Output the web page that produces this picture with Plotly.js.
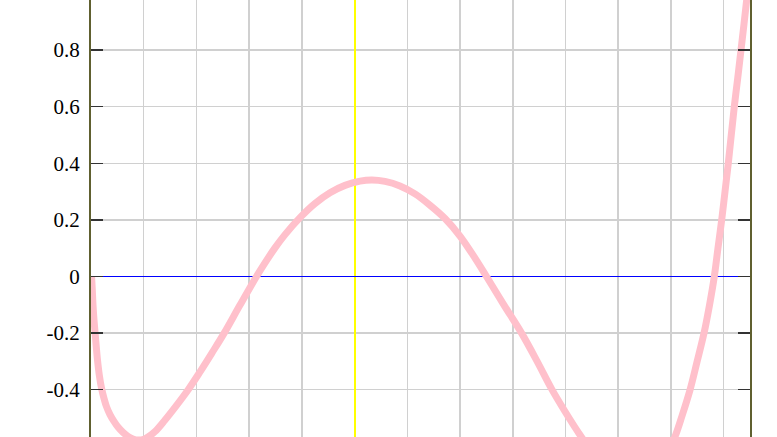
<!DOCTYPE html>
<html>
<head>
<meta charset="utf-8">
<script src="https://cdn.plot.ly/plotly-3.0.1.min.js"></script>
<style>html,body{margin:0;padding:0;background:#fff;}#chart{width:777px;height:437px;}</style>
</head>
<body>
<div id="chart"></div>
<script>
// Curve samples
var curveX = [-4.989, -4.975, -4.962, -4.943, -4.924, -4.901, -4.877, -4.843, -4.801, -4.753,
  -4.706, -4.640, -4.564, -4.488, -4.393, -4.298, -4.203, -4.108, -4.014, -3.919,
  -3.786, -3.596, -3.388, -3.160, -2.932, -2.705, -2.477, -2.174, -1.861, -1.700,
  -1.510, -1.320, -1.036, -0.751, -0.467, -0.182, 0.102, 0.330, 0.577, 0.861,
  1.146, 1.430, 1.715, 1.999, 2.284, 2.502, 2.834, 3.170, 3.460, 3.739,
  3.991, 4.237, 4.465, 4.693, 4.920, 5.186, 5.413, 5.641, 5.831, 5.964,
  6.077, 6.210, 6.362, 6.495, 6.627, 6.732, 6.823, 6.893, 6.963, 7.026,
  7.088, 7.145, 7.202, 7.267, 7.329, 7.386, 7.437, 7.491];
var curveY = [0, -0.048, -0.101, -0.154, -0.196, -0.246, -0.295, -0.348, -0.394, -0.431,
  -0.460, -0.488, -0.512, -0.532, -0.551, -0.565, -0.574, -0.578, -0.576, -0.567,
  -0.548, -0.507, -0.458, -0.401, -0.337, -0.270, -0.201, -0.101, 0, 0.048,
  0.101, 0.148, 0.208, 0.258, 0.296, 0.322, 0.337, 0.341, 0.336, 0.320,
  0.292, 0.252, 0.205, 0.143, 0.065, 0, -0.101, -0.201, -0.299, -0.398,
  -0.477, -0.549, -0.610, -0.659, -0.698, -0.723, -0.719, -0.694, -0.648, -0.608,
  -0.566, -0.493, -0.401, -0.302, -0.201, -0.101, 0, 0.101, 0.200, 0.300,
  0.400, 0.500, 0.600, 0.701, 0.800, 0.892, 0.977, 1.055];
var yTickVals = [-0.4, -0.2, 0, 0.2, 0.4, 0.6, 0.8];
var yTickText = ['-0.4', '-0.2', '0', '0.2', '0.4', '0.6', '0.8'];

var serif = 'Liberation Serif';

var trace = {
  x: curveX, y: curveY, type: 'scatter', mode: 'lines',
  line: {color: '#ffc0cb', width: 7, shape: 'spline', smoothing: 1},
  hoverinfo: 'skip'
};

var layout = {
  width: 777, height: 437,
  margin: {l: 91, r: 27, t: 0, b: 0, pad: 0},
  paper_bgcolor: '#ffffff', plot_bgcolor: '#ffffff',
  showlegend: false,
  font: {family: serif, size: 21, color: '#000000'},
  xaxis: {
    range: [-5, 7.5], dtick: 1, tick0: 0,
    showgrid: true, gridcolor: '#d0d0d0', gridwidth: 1.5,
    zeroline: true, zerolinecolor: '#ffff00', zerolinewidth: 2,
    showticklabels: false, ticks: '', showline: false, fixedrange: true
  },
  yaxis: {
    range: [-0.5672, 0.977],
    tickmode: 'array', tickvals: yTickVals, ticktext: yTickText,
    showgrid: true, gridcolor: '#d0d0d0', gridwidth: 1.5,
    zeroline: true, zerolinecolor: '#0000ff', zerolinewidth: 1.8,
    showline: true, linecolor: '#606030', linewidth: 2, mirror: 'ticks',
    ticks: 'inside', ticklen: 12, tickwidth: 1.5, tickcolor: '#333333',
    ticklabelstandoff: 5,
    tickfont: {family: serif, size: 21, color: '#000000'},
    fixedrange: true
  }
};

Plotly.newPlot('chart', [trace], layout, {staticPlot: true, displayModeBar: false});
</script>
</body>
</html>
